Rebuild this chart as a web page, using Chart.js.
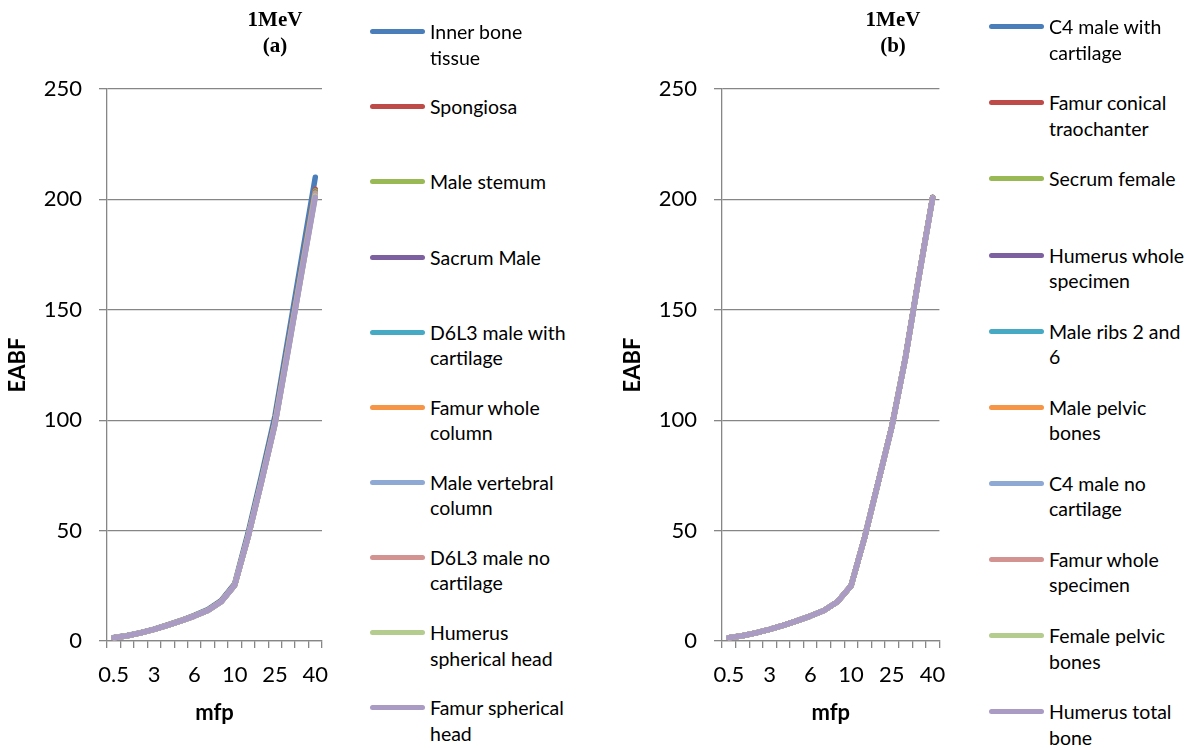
<!DOCTYPE html>
<html>
<head>
<meta charset="utf-8">
<script src="https://cdn.jsdelivr.net/npm/chart.js@4.4.0/dist/chart.umd.min.js"></script>
<style>
  body { margin: 0; width: 1195px; height: 748px; background: #fff; overflow: hidden; position: relative; font-family: Lato, sans-serif; }
  canvas { position: absolute; top: 0; }
  .ttl { position: absolute; top: 7px; width: 120px; text-align: center; font: bold 21px "Liberation Serif", serif; line-height: 25.8px; }
  .leg { position: absolute; font-size: 19.5px; line-height: 25.5px; color: #000; white-space: pre; }
  .leg i { position: absolute; left: -60px; top: 10px; width: 55px; height: 5px; border-radius: 3px; }
</style>
</head>
<body>
<canvas id="chartA" width="345" height="748" style="left:0px"></canvas>
<canvas id="chartB" width="345" height="748" style="left:615px"></canvas>
<div class="ttl" style="left:215px">1MeV<br>(a)</div>
<div class="ttl" style="left:833px">1MeV<br>(b)</div>
<div id="legA"></div>
<div id="legB"></div>
<script>
// mfp categories (x axis)
const mfp = ["0.5", "1", "2", "3", "4", "5", "6", "7", "8", "10", "15", "20", "25", "30", "35", "40"];

// panel (a)
const namesA = ["Inner bone\ntissue", "Spongiosa", "Male stemum", "Sacrum Male", "D6L3 male with\ncartilage",
  "Famur whole\ncolumn", "Male vertebral\ncolumn", "D6L3 male no\ncartilage", "Humerus\nspherical head", "Famur spherical\nhead"];
const innerBone     = [1.6, 2.5, 3.8, 5.4, 7.3, 9.3, 11.6, 14.2, 18.3, 25.9, 49, 75, 102, 138, 174, 210];
const spongiosa     = [1.5, 2.4, 3.7, 5.3, 7.2, 9.2, 11.4, 13.9, 18, 25.5, 47.6, 73, 99.5, 134.5, 169.5, 204.5];
const maleStemum    = [1.5, 2.4, 3.7, 5.3, 7.2, 9.2, 11.4, 13.9, 17.9, 25.4, 47.5, 72.8, 99, 134, 169, 203.8];
const sacrumMale    = [1.5, 2.4, 3.7, 5.3, 7.1, 9.1, 11.3, 13.8, 17.9, 25.3, 47.3, 72.6, 98.8, 133.6, 168.6, 203.3];
const d6l3With      = [1.5, 2.4, 3.7, 5.3, 7.1, 9.1, 11.3, 13.8, 17.9, 25.3, 47.3, 72.5, 98.7, 133.4, 168.4, 203];
const famurColumn   = [1.5, 2.4, 3.7, 5.3, 7.1, 9.1, 11.3, 13.8, 17.9, 25.3, 47.2, 72.4, 98.6, 133.2, 168.2, 202.8];
const maleVertebral = [1.5, 2.4, 3.7, 5.3, 7.1, 9.1, 11.3, 13.8, 17.8, 25.2, 47.1, 72.3, 98.4, 132.9, 167.8, 202.3];
const d6l3No        = [1.5, 2.4, 3.7, 5.3, 7.1, 9.1, 11.3, 13.8, 17.8, 25.2, 47.1, 72.2, 98.3, 132.7, 167.5, 202];
const humerusHead   = [1.5, 2.4, 3.7, 5.3, 7.1, 9.1, 11.3, 13.8, 17.8, 25.2, 47, 72.1, 98.1, 132.4, 167.2, 201.5];
const famurHead     = [1.5, 2.4, 3.7, 5.3, 7.1, 9.1, 11.3, 13.8, 17.8, 25.2, 47, 72, 98, 132, 167, 201];

// panel (b)
const namesB = ["C4 male with\ncartilage", "Famur conical\ntraochanter", "Secrum female", "Humerus whole\nspecimen", "Male ribs 2 and\n6",
  "Male pelvic\nbones", "C4 male no\ncartilage", "Famur whole\nspecimen", "Female pelvic\nbones", "Humerus total\nbone"];
const c4With        = [1.5, 2.4, 3.7, 5.3, 7.1, 9.1, 11.3, 13.8, 17.8, 25, 47, 72, 97.3, 128.6, 165.6, 201];
const famurConical  = [1.5, 2.4, 3.7, 5.3, 7.1, 9.1, 11.3, 13.8, 17.8, 25, 47, 72, 97.2, 128.5, 165.5, 200.9];
const secrumFemale  = [1.5, 2.4, 3.7, 5.3, 7.1, 9.1, 11.3, 13.8, 17.8, 25, 47, 72, 97.2, 128.4, 165.4, 200.8];
const humerusWhole  = [1.5, 2.4, 3.7, 5.3, 7.1, 9.1, 11.3, 13.8, 17.8, 25, 47, 72, 97.1, 128.3, 165.3, 200.8];
const maleRibs      = [1.5, 2.4, 3.7, 5.3, 7.1, 9.1, 11.3, 13.8, 17.8, 25, 47, 72, 97.1, 128.3, 165.2, 200.7];
const malePelvic    = [1.5, 2.4, 3.7, 5.3, 7.1, 9.1, 11.3, 13.8, 17.8, 25, 47, 72, 97.1, 128.2, 165.2, 200.7];
const c4No          = [1.5, 2.4, 3.7, 5.3, 7.1, 9.1, 11.3, 13.8, 17.8, 25, 47, 72, 97, 128.2, 165.1, 200.6];
const famurSpecimen = [1.5, 2.4, 3.7, 5.3, 7.1, 9.1, 11.3, 13.8, 17.8, 25, 47, 72, 97, 128.1, 165.1, 200.6];
const femalePelvic  = [1.5, 2.4, 3.7, 5.3, 7.1, 9.1, 11.3, 13.8, 17.8, 25, 47, 72, 97, 128.1, 165, 200.5];
const humerusTotal  = [1.5, 2.4, 3.7, 5.3, 7.1, 9.1, 11.3, 13.8, 17.8, 25, 47, 72, 97, 128, 165, 200.5];

const colors = ["#4A7EBB", "#BE4B48", "#98B954", "#7D60A0", "#46AAC5", "#F69546", "#8EA9D4", "#D39491", "#B4CC8E", "#A99BC4"];
const grey = "#868686";
const tickFont = { family: "Lato", size: 22 };
const titleFont = { family: "Lato", size: 22, weight: "bold" };

function panel(id, names, series, padRight) {
  return new Chart(document.getElementById(id), {
    type: "line",
    data: {
      labels: mfp,
      datasets: series.map((d, i) => ({
        label: names[i].replace("\n", " "),
        data: d,
        borderColor: colors[i],
        backgroundColor: colors[i],
        borderWidth: 5.5,
        borderCapStyle: "round",
        borderJoinStyle: "round",
        pointRadius: 0,
        tension: 0,
        fill: false,
        order: series.length - i   // last series drawn on top, like Excel
      }))
    },
    options: {
      responsive: false,
      animation: false,
      layout: { padding: { left: 0, top: 89, right: padRight, bottom: 0 } },
      plugins: { legend: { display: false }, tooltip: { enabled: false } },
      scales: {
        x: {
          offset: true,
          grid: { offset: true, drawOnChartArea: false, tickLength: 7, color: grey, lineWidth: 1.3 },
          border: { color: grey, width: 1.3 },
          ticks: {
            autoSkip: false, maxRotation: 0, padding: 14, color: "#000", font: tickFont,
            callback: function (v, i) { return i % 3 === 0 ? this.getLabelForValue(v) : ""; }
          },
          title: { display: true, text: "mfp", color: "#000", font: titleFont, padding: { top: 0, bottom: 22 } },
          afterFit: (s) => { s.height = 107; }
        },
        y: {
          min: 0, max: 250,
          ticks: { stepSize: 50, padding: 17, color: "#000", font: tickFont },
          grid: { color: grey, tickLength: 8, lineWidth: 1.3 },
          border: { color: grey, width: 1.3 },
          title: { display: true, text: "EABF", color: "#000", font: titleFont, padding: { top: 5, bottom: 0 } },
          afterFit: (s) => { s.width = 107; }
        }
      }
    }
  });
}

function legend(id, names, left, top0, step) {
  const box = document.getElementById(id);
  names.forEach((n, i) => {
    const el = document.createElement("div");
    el.className = "leg";
    el.style.left = left + "px";
    el.style.top = (top0 + step * i - 12.75) + "px";
    el.textContent = n;
    const sw = document.createElement("i");
    sw.style.background = colors[i];
    el.appendChild(sw);
    box.appendChild(el);
  });
}

window.addEventListener("load", function () {
  panel("chartA", namesA, [innerBone, spongiosa, maleStemum, sacrumMale, d6l3With, famurColumn, maleVertebral, d6l3No, humerusHead, famurHead], 23);
  panel("chartB", namesB, [c4With, famurConical, secrumFemale, humerusWhole, maleRibs, malePelvic, c4No, famurSpecimen, femalePelvic, humerusTotal], 20);
  legend("legA", namesA, 430, 32, 75.1);
  legend("legB", namesB, 1049, 27, 76.1);
});
</script>
</body>
</html>
